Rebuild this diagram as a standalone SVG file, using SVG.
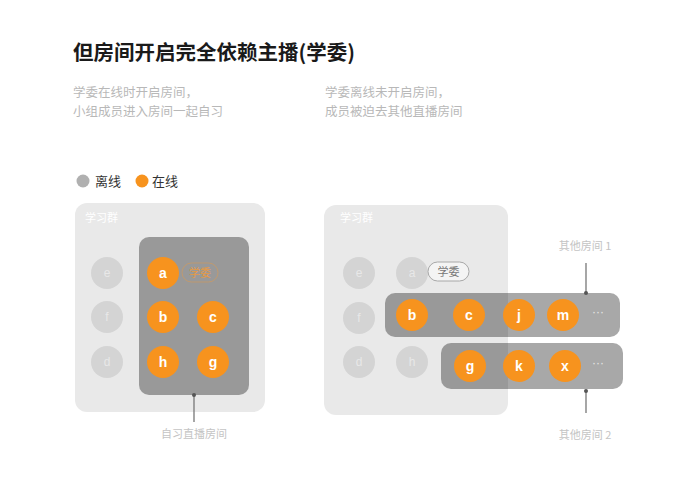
<svg xmlns="http://www.w3.org/2000/svg" width="685" height="497" viewBox="0 0 685 497">
<style>
text{font-family:"Noto Sans CJK SC","Liberation Sans",sans-serif}
.title{font-size:20.5px;font-weight:bold;fill:#1a1a1a}
.sub{font-size:12.5px;fill:#b8b8b8}
.leg{font-size:13px;fill:#333}
.grp{fill:#e9e9e9}
.grplbl{font-size:11px;fill:#ffffff}
.room{fill:#000;fill-opacity:0.34}
.off{fill:#d4d4d4}
.offt{font-family:"Liberation Sans",sans-serif;font-size:12px;fill:#e8e8e8;text-anchor:middle}
.on{fill:#f7931e}
.ont{font-family:"Liberation Sans",sans-serif;font-size:14px;font-weight:bold;fill:#fff;text-anchor:middle}
.dots{font-family:"Liberation Sans",sans-serif;font-size:12px;fill:#e6e6e6;text-anchor:middle}
.lbl{font-size:11px;fill:#c4c4c4;text-anchor:middle}
.ptr{stroke:#777;stroke-width:1.3}
</style>
<rect width="685" height="497" fill="#fff"/>
<text class="title" x="73" y="60">但房间开启完全依赖主播(学委)</text>
<text class="sub" x="73" y="97">学委在线时开启房间，</text>
<text class="sub" x="73" y="115.5">小组成员进入房间一起自习</text>
<text class="sub" x="325" y="97">学委离线未开启房间，</text>
<text class="sub" x="325" y="115.5">成员被迫去其他直播房间</text>
<g id="legend">
<circle cx="83" cy="181" r="6.5" fill="#b0b0b0"/>
<text class="leg" x="95" y="186">离线</text>
<circle cx="142" cy="181" r="6.5" fill="#f7931e"/>
<text class="leg" x="152" y="186">在线</text>
</g>
<g id="left-group">
<rect class="grp" x="75" y="203" width="190" height="209" rx="12"/>
<text class="grplbl" x="85" y="222">学习群</text>
</g>
<g id="left-room">
<rect class="room" x="139" y="237" width="110" height="158" rx="10"/>
</g>
<g id="node-l-e"><circle class="off" cx="107" cy="273" r="16"/><text class="offt" x="107" y="277">e</text></g>
<g id="node-l-f"><circle class="off" cx="107" cy="317" r="16"/><text class="offt" x="107" y="321">f</text></g>
<g id="node-l-d"><circle class="off" cx="107" cy="362" r="16"/><text class="offt" x="107" y="366">d</text></g>
<g id="node-l-a"><circle class="on" cx="163" cy="273" r="16"/><text class="ont" x="163" y="278">a</text></g>
<g id="tag-l"><rect x="182" y="263" width="36" height="19" rx="9.5" fill="none" stroke="#d89a55" stroke-width="1" opacity="0.6"/><text x="200" y="277" font-size="11" fill="#e59a45" text-anchor="middle">学委</text></g>
<g id="node-l-b"><circle class="on" cx="163" cy="317" r="16"/><text class="ont" x="163" y="322">b</text></g>
<g id="node-l-c"><circle class="on" cx="213" cy="317" r="16"/><text class="ont" x="213" y="322">c</text></g>
<g id="node-l-h"><circle class="on" cx="163" cy="362" r="16"/><text class="ont" x="163" y="367">h</text></g>
<g id="node-l-g"><circle class="on" cx="213" cy="362" r="16"/><text class="ont" x="213" y="367">g</text></g>
<g id="right-group">
<rect class="grp" x="324" y="205" width="184" height="210" rx="12"/>
<text class="grplbl" x="340" y="222">学习群</text>
</g>
<g id="node-r-e"><circle class="off" cx="359" cy="273" r="16"/><text class="offt" x="359" y="277">e</text></g>
<g id="node-r-a"><circle class="off" cx="412" cy="273" r="16"/><text class="offt" x="412" y="277">a</text></g>
<g id="tag-r"><rect x="428" y="262" width="41" height="19" rx="9.5" fill="#f4f4f4" stroke="#a8a8a8" stroke-width="1"/><text x="448.5" y="276" font-size="11" fill="#777" text-anchor="middle">学委</text></g>
<g id="node-r-f"><circle class="off" cx="359" cy="318" r="16"/><text class="offt" x="359" y="322">f</text></g>
<g id="node-r-d"><circle class="off" cx="359" cy="362" r="16"/><text class="offt" x="359" y="366">d</text></g>
<g id="node-r-h"><circle class="off" cx="412" cy="362" r="16"/><text class="offt" x="412" y="366">h</text></g>
<g id="room-1">
<rect class="room" x="385" y="293" width="235" height="44" rx="10"/>
</g>
<g id="room-2">
<rect class="room" x="441" y="343" width="182" height="46" rx="10"/>
</g>
<g id="node-r-b"><circle class="on" cx="412" cy="315" r="16"/><text class="ont" x="412" y="320">b</text></g>
<g id="node-r-c"><circle class="on" cx="469" cy="315" r="16"/><text class="ont" x="469" y="320">c</text></g>
<g id="node-r-j"><circle class="on" cx="519" cy="315" r="16"/><text class="ont" x="519" y="320">j</text></g>
<g id="node-r-m"><circle class="on" cx="563" cy="315" r="16"/><text class="ont" x="563" y="320">m</text></g>
<text class="dots" x="598" y="316">···</text>
<g id="node-r-g"><circle class="on" cx="470" cy="366" r="16"/><text class="ont" x="470" y="371">g</text></g>
<g id="node-r-k"><circle class="on" cx="519" cy="366" r="16"/><text class="ont" x="519" y="371">k</text></g>
<g id="node-r-x"><circle class="on" cx="565" cy="366" r="16"/><text class="ont" x="565" y="371">x</text></g>
<text class="dots" x="598" y="367">···</text>
<g id="connectors">
<line class="ptr" x1="194" y1="395" x2="194" y2="422"/>
<circle cx="194" cy="395" r="2" fill="#555"/>
<line class="ptr" x1="586" y1="263" x2="586" y2="293"/>
<circle cx="586" cy="293" r="2" fill="#555"/>
<line class="ptr" x1="586" y1="390" x2="586" y2="413"/>
<circle cx="586" cy="391" r="2" fill="#555"/>
</g>
<text class="lbl" x="194" y="438">自习直播房间</text>
<text class="lbl" x="585" y="250">其他房间 1</text>
<text class="lbl" x="585" y="439">其他房间 2</text>
</svg>
